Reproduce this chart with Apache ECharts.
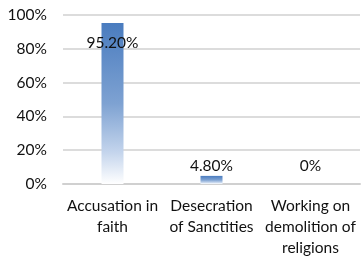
<!DOCTYPE html>
<html>
<head>
<meta charset="utf-8">
<script src="https://cdn.jsdelivr.net/npm/echarts@6/dist/echarts.min.js"></script>
<style>
	html, body { margin: 0; padding: 0; background: #fff; }
	#chart { width: 361px; height: 258px; }
</style>
</head>
<body>
<div id="chart"></div>
<script>
	'use strict'

	/*-----data-----*/
	var categories = ['Accusation in\nfaith', 'Desecration\nof Sanctities', 'Working on\ndemolition of\nreligions'];
	var values = [95.2, 4.8, 0];
	var valueLabels = ['95.20%', '4.80%', '0%'];
	var yTicks = [0, 20, 40, 60, 80, 100];

	var labelPos = ['insideTop', 'top', 'top'];
	var labelDist = [12, 2, 10];

	var chart = echarts.init(document.getElementById('chart'));
	var option = {
		animation: false,
		textStyle: { fontFamily: 'Lato' },
		grid: {
			top: 15,
			right: 1,
			bottom: 74,
			left: 63
		},
		xAxis: {
			type: 'category',
			data: categories,
			axisTick: { show: false },
			axisLine: { lineStyle: { color: '#d0d0d0', width: 2 } },
			axisLabel: {
				fontSize: 15.5,
				color: '#111',
				lineHeight: 21,
				margin: 11,
				interval: 0
			}
		},
		yAxis: {
			type: 'value',
			min: yTicks[0],
			max: yTicks[yTicks.length - 1],
			interval: 20,
			axisLine: { show: false },
			axisTick: { show: false },
			splitLine: { lineStyle: { color: '#dcdcdc', width: 2 } },
			axisLabel: {
				fontSize: 15.5,
				color: '#111',
				margin: 16,
				formatter: '{value}%'
			}
		},
		series: [{
			type: 'bar',
			barWidth: 22,
			data: values.map(function (v, i) {
				return {
					value: v,
					label: {
						show: true,
						position: labelPos[i],
						distance: labelDist[i],
						formatter: valueLabels[i],
						fontSize: 15.5,
						color: '#111'
					}
				};
			}),
			itemStyle: {
				color: new echarts.graphic.LinearGradient(0, 0, 0, 1, [{
					offset: 0,
					color: '#4a7cbf'
				}, {
					offset: 0.5,
					color: '#7ea2d2'
				}, {
					offset: 0.8,
					color: '#c3d4ec'
				}, {
					offset: 1,
					color: '#ffffff'
				}])
			}
		}]
	};
	chart.setOption(option);
</script>
</body>
</html>
